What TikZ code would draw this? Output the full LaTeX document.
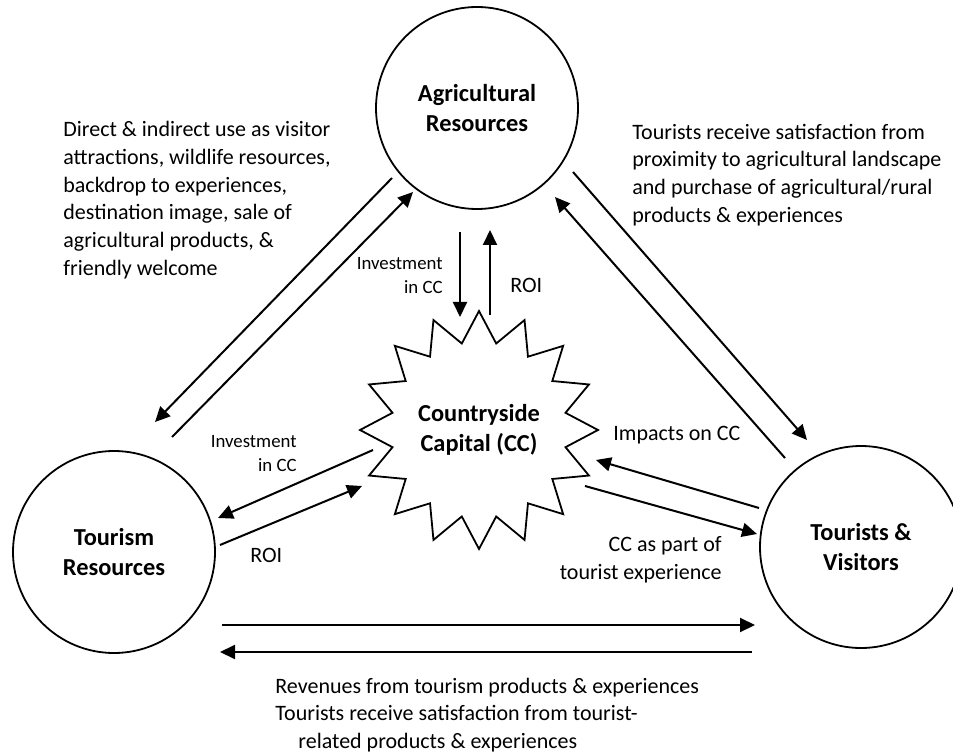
\documentclass[tikz,border=0pt]{standalone}
\usepackage{fontspec}
\setmainfont{Carlito}
\usetikzlibrary{arrows.meta,shapes.geometric}

\def\circsize{101pt}

\begin{document}
\begin{tikzpicture}[x=0.5pt, y=-0.5pt, >={Triangle[length=7.5pt,width=7pt]}]
        \tikzstyle{res}=[circle, draw, line width=0.9pt, minimum size=\circsize, inner sep=0pt, outer sep=0pt, align=center, font=\fontsize{12.2}{15}\selectfont\bfseries]
        \tikzstyle{capital}=[star, star points=16, star point ratio=1.35, minimum size=119pt, draw, line width=0.9pt, inner sep=0pt, outer sep=0pt, align=center, font=\fontsize{12.2}{15}\selectfont\bfseries]
        \tikzstyle{arr}=[->, line width=1pt]
        \tikzstyle{note}=[inner sep=0pt, font=\fontsize{11}{13.85}\selectfont]
        \tikzstyle{small}=[inner sep=0pt, font=\fontsize{9.4}{12}\selectfont]

        \useasboundingbox (0,0) rectangle (953,754);

        \node[res] (agri) at (477,108) {Agricultural\\Resources};
        \node[res] (tour) at (114,552) {Tourism\\Resources};
        \node[res] (vis) at (861,547) {Tourists \&\\Visitors};
        \node[capital] (cc) at (479,430) {Countryside\\Capital (CC)};

        \node[note, anchor=west, align=left] (useNote) at (63,200) {Direct \& indirect use as visitor\\attractions, wildlife resources,\\backdrop to experiences,\\destination image, sale of\\agricultural products, \&\\friendly welcome};
        \node[note, anchor=west, align=left] (satNote) at (632,175) {Tourists receive satisfaction from\\proximity to agricultural landscape\\and purchase of agricultural/rural\\products \& experiences};
        \node[note, anchor=west, align=left] (revNote) at (275,715) {Revenues from tourism products \& experiences\\Tourists receive satisfaction from tourist-\\\hspace*{11.5pt}related products \& experiences};

        \node[small, anchor=east, align=right] (invTop) at (443,276) {Investment\\in CC};
        \node[note, anchor=west] (roiTop) at (510,285) {ROI};
        \node[small, anchor=east, align=right] (invLeft) at (297,454) {Investment\\in CC};
        \node[note, anchor=west] (roiLeft) at (250,555) {ROI};
        \node[note, anchor=west] (impNote) at (613,435) {Impacts on CC};
        \node[note, anchor=east, align=right] (partNote) at (722,560) {CC as part of\\tourist experience};

        \path[arr]
            ([shift={(-85,70)}]agri.center) edge ([shift={(41,-130)}]tour.center)
            ([shift={(58,-115)}]tour.center) edge ([shift={(-64,84)}]agri.center)
            ([shift={(96,64)}]agri.center) edge ([shift={(-54,-107)}]vis.center)
            ([shift={(-76,-89)}]vis.center) edge ([shift={(78,89)}]agri.center)
            ([shift={(-17,124)}]agri.center) edge ([shift={(-19,-113)}]cc.center)
            ([shift={(11,-115)}]cc.center) edge ([shift={(13,122)}]agri.center)
            ([shift={(-106,20)}]cc.center) edge ([shift={(104,-34)}]tour.center)
            ([shift={(106,-7)}]tour.center) edge ([shift={(-117,56)}]cc.center)
            ([shift={(-102,-39)}]vis.center) edge ([shift={(117,30)}]cc.center)
            ([shift={(106,56)}]cc.center) edge ([shift={(-104,-13)}]vis.center)
            ([shift={(108,73)}]tour.center) edge ([shift={(-106,78)}]vis.center)
            ([shift={(-109,105)}]vis.center) edge ([shift={(106,100)}]tour.center)
        ;
\end{tikzpicture}
\end{document}
